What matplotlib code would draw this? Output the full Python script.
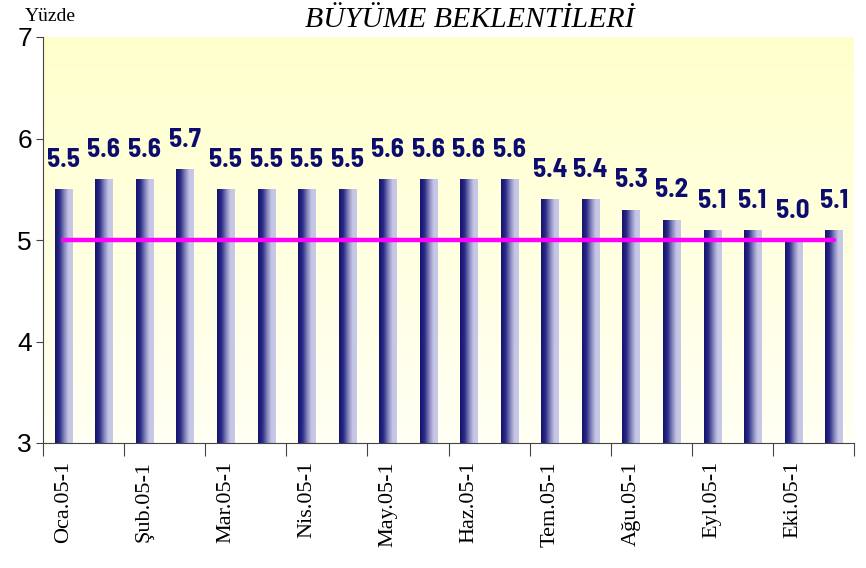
import matplotlib
matplotlib.use('Agg')
import matplotlib.pyplot as plt
import numpy as np
from matplotlib.colors import LinearSegmentedColormap

# veriler
degerler = [5.5, 5.6, 5.6, 5.7, 5.5, 5.5, 5.5, 5.5, 5.6, 5.6,
            5.6, 5.6, 5.4, 5.4, 5.3, 5.2, 5.1, 5.1, 5.0, 5.1]
etiketler = ['Oca.05-1', 'Şub.05-1', 'Mar.05-1', 'Nis.05-1', 'May.05-1',
             'Haz.05-1', 'Tem.05-1', 'Ağu.05-1', 'Eyl.05-1', 'Eki.05-1']
hedef = 5.0

dar = ['Barlow Semi Condensed', 'Liberation Sans']

n = len(degerler)
x = np.arange(n)

fig = plt.figure(figsize=(8.66, 5.68), dpi=100)
ax = fig.add_axes([43/866, 1-443/568, 811/866, 406/568])
ax.set_xlim(-0.5, n-0.5)
ax.set_ylim(3, 7)

# arka plan gradyanı
bg = LinearSegmentedColormap.from_list('bg', ['#fffff4', '#ffffcc'])
ax.imshow(np.linspace(0, 1, 256).reshape(-1, 1), cmap=bg, aspect='auto',
          extent=[-0.5, n-0.5, 3, 7], origin='lower', zorder=0)

bar_cmap = LinearSegmentedColormap.from_list('bar', ['#14146e', '#2a2a88', '#8080b8', '#c4c4e4', '#c8c8e8'])
bars = ax.bar(x, degerler, width=0.42, bottom=0, color='none', zorder=2)
grad = np.linspace(0, 1, 64).reshape(1, -1)
for b in bars:
    x0, w, h = b.get_x(), b.get_width(), b.get_height()
    im = ax.imshow(grad, cmap=bar_cmap, aspect='auto', extent=[x0, x0+w, 3, h], zorder=2)
    im.set_clip_path(b)

ax.plot([x[0], x[-1]], [hedef, hedef], color='#ff00ff', lw=3.2, solid_capstyle='round', zorder=3)

for xi, v in zip(x, degerler):
    ax.text(xi, v + 0.17, f'{v:.1f}', ha='center', va='bottom', color='#0c0c6e',
            fontsize=19.5, fontweight='bold', family=dar, zorder=4)

for s in ['top', 'right']:
    ax.spines[s].set_visible(False)
ax.spines['left'].set_color('#444444')
ax.spines['bottom'].set_color('#444444')

ax.set_yticks([3, 4, 5, 6, 7])
ax.set_yticklabels(['3', '4', '5', '6', '7'], family='Liberation Sans', fontsize=19)
ax.tick_params(axis='y', length=5, color='#444444', pad=3)

ax.set_xticks(np.arange(-0.5, n, 2), minor=False)
ax.set_xticklabels([])
ax.tick_params(axis='x', length=9, color='#444444')
ax.set_xticks(x[::2], minor=True)
ax.set_xticklabels(etiketler, minor=True, rotation=90, family='Liberation Serif', fontsize=16)
ax.tick_params(axis='x', which='minor', length=0, pad=13)

fig.text(76/866, 1-21/568, 'Yüzde', ha='right', va='baseline', family='Liberation Serif', fontsize=14)
fig.text(470/866, 1-27/568, 'BÜYÜME BEKLENTİLERİ', ha='center', va='baseline',
         family='Liberation Serif', style='italic', fontsize=21.5)

fig.savefig('out.png', dpi=100)
